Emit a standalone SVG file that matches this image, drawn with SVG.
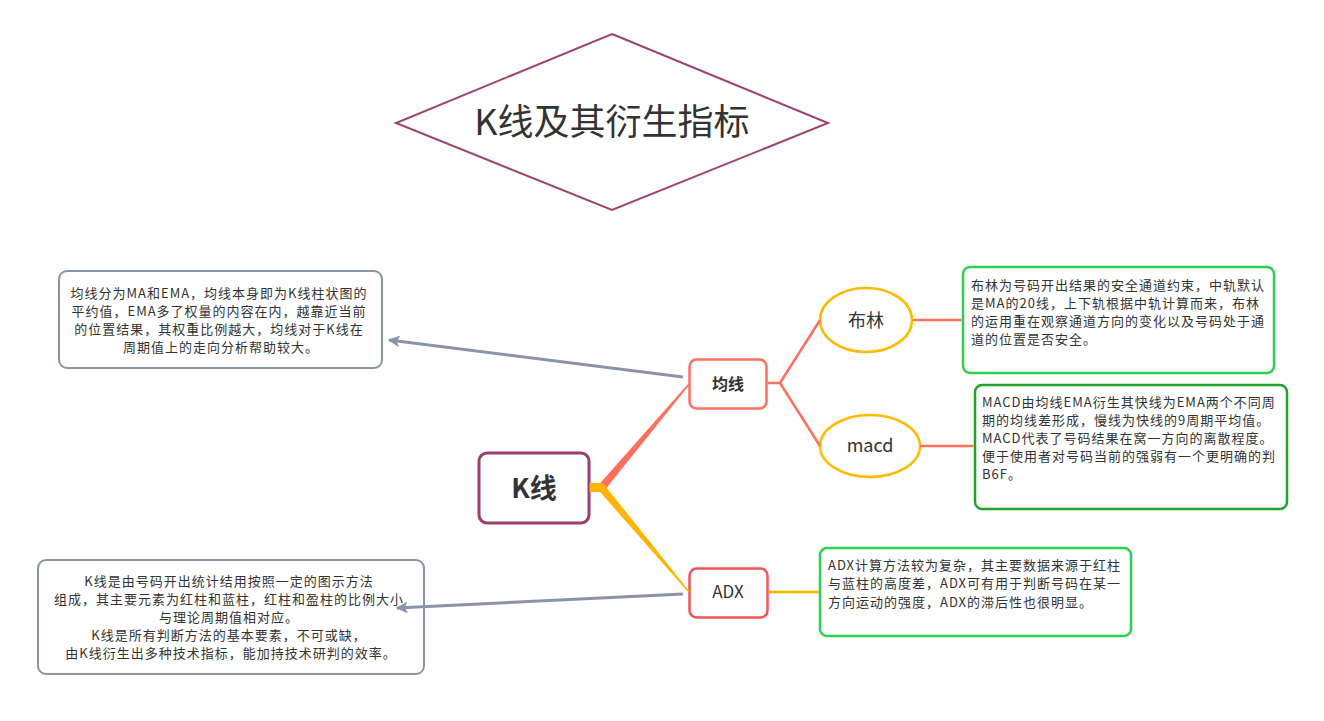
<svg xmlns="http://www.w3.org/2000/svg" width="1324" height="721" viewBox="0 0 1324 721">
<defs>
<style>
text{font-family:"Noto Sans CJK SC","Noto Sans",sans-serif;fill:#333333}
.note{font-size:13px;letter-spacing:1px}
.gray{fill:#ffffff;stroke:#8a94a8;stroke-width:2}
.grn{fill:#ffffff;stroke:#2fd052;stroke-width:2.5}
.dgrn{fill:#ffffff;stroke:#1ea52a;stroke-width:2.5}
.ell{fill:#ffffff;stroke:#ffbb00;stroke-width:2.5}
.sal{stroke:#ff6f5e;stroke-width:2.5;fill:none}
.gld{stroke:#ffb400;stroke-width:2.5;fill:none}
.arr{stroke:#8a94a8;stroke-width:3;fill:none}
</style>
<marker id="ah" viewBox="0 0 10 10" refX="9" refY="5" markerWidth="4.5" markerHeight="4" orient="auto" markerUnits="strokeWidth">
<path d="M0,0 L10,5 L0,10 L2.5,5 Z" fill="#8a94a8"/>
</marker>
</defs>
<rect width="1324" height="721" fill="#ffffff"/>

<g id="title">
<polygon points="612,34 828,123 612,210 396,123" fill="#ffffff" stroke="#a0426f" stroke-width="2"/>
<text x="612" y="135" font-size="36" text-anchor="middle">K线及其衍生指标</text>
</g>

<g id="node-k">
<rect x="479" y="453" width="110" height="70" rx="8" fill="#ffffff" stroke="#9c3e70" stroke-width="3"/>
<text x="534" y="498" font-size="27" font-weight="bold" text-anchor="middle">K线</text>
</g>

<g id="node-junxian">
<rect x="689.5" y="359.5" width="77" height="49" rx="7" fill="#ffffff" stroke="#ff6f5e" stroke-width="2.5"/>
<text x="728" y="390" font-size="16" font-weight="bold" text-anchor="middle">均线</text>
</g>

<g id="node-adx">
<rect x="689.5" y="568.5" width="78" height="49" rx="7" fill="#ffffff" stroke="#f25555" stroke-width="2.5"/>
<text x="728" y="598" font-size="17" text-anchor="middle">ADX</text>
</g>

<g id="node-bulin">
<ellipse class="ell" cx="866" cy="320" rx="46" ry="32"/>
<text x="866" y="327" font-size="18" text-anchor="middle">布林</text>
</g>

<g id="node-macd">
<ellipse class="ell" cx="870" cy="446" rx="50" ry="31"/>
<text x="870" y="452" font-size="18" text-anchor="middle">macd</text>
</g>

<g id="note-junxian">
<rect class="gray" x="59" y="271" width="323" height="97" rx="8"/>
<text class="note" text-anchor="middle">
<tspan x="221" y="298">均线分为MA和EMA，均线本身即为K线柱状图的</tspan>
<tspan x="221" y="316">平约值，EMA多了权量的内容在内，越靠近当前</tspan>
<tspan x="221" y="334">的位置结果，其权重比例越大，均线对于K线在</tspan>
<tspan x="221" y="352">周期值上的走向分析帮助较大。</tspan>
</text>
</g>

<g id="note-k">
<rect class="gray" x="38" y="560" width="386" height="114" rx="8"/>
<text class="note" text-anchor="middle">
<tspan x="231" y="586">K线是由号码开出统计结用按照一定的图示方法</tspan>
<tspan x="231" y="604">组成，其主要元素为红柱和蓝柱，红柱和盈柱的比例大小</tspan>
<tspan x="231" y="622">与理论周期值相对应。</tspan>
<tspan x="231" y="640">K线是所有判断方法的基本要素，不可或缺，</tspan>
<tspan x="231" y="658">由K线衍生出多种技术指标，能加持技术研判的效率。</tspan>
</text>
</g>

<g id="note-bulin">
<rect class="grn" x="963" y="267" width="311" height="106" rx="7"/>
<text class="note">
<tspan x="971" y="290">布林为号码开出结果的安全通道约束，中轨默认</tspan>
<tspan x="971" y="308">是MA的20线，上下轨根据中轨计算而来，布林</tspan>
<tspan x="971" y="326">的运用重在观察通道方向的变化以及号码处于通</tspan>
<tspan x="971" y="344">道的位置是否安全。</tspan>
</text>
</g>

<g id="note-macd">
<rect class="dgrn" x="975" y="385" width="312" height="124" rx="7"/>
<text class="note">
<tspan x="982" y="407">MACD由均线EMA衍生其快线为EMA两个不同周</tspan>
<tspan x="982" y="425">期的均线差形成，慢线为快线的9周期平均值。</tspan>
<tspan x="982" y="443">MACD代表了号码结果在窝一方向的离散程度。</tspan>
<tspan x="982" y="461">便于使用者对号码当前的强弱有一个更明确的判</tspan>
<tspan x="982" y="479">B6F。</tspan>
</text>
</g>

<g id="note-adx">
<rect class="grn" x="820" y="548" width="311" height="88" rx="7"/>
<text class="note">
<tspan x="828" y="570">ADX计算方法较为复杂，其主要数据来源于红柱</tspan>
<tspan x="828" y="588">与蓝柱的高度差，ADX可有用于判断号码在某一</tspan>
<tspan x="828" y="607">方向运动的强度，ADX的滞后性也很明显。</tspan>
</text>
</g>

<g id="connectors">
<polygon points="599.9,483.4 606.1,488.6 689.6,384.5 688.4,383.5" fill="#ff6f5e"/>
<polygon points="604,484.4 598,489.6 688.5,592.5 689.5,591.5" fill="#ffb400"/>
<polygon points="589.5,483 602,483 607,488.5 599,492 589.5,492" fill="#ffb400"/>
<path class="sal" d="M767.5,383 H780 L820,320 M780,383 L820,446"/>
<path class="sal" d="M913,320 H961.5"/>
<path class="sal" d="M920,446 H973.5"/>
<path class="gld" d="M768.5,592 H818.5"/>
<path class="arr" d="M683,377 L389,340" marker-end="url(#ah)"/>
<path class="arr" d="M683,594 L397,608" marker-end="url(#ah)"/>
</g>
</svg>
